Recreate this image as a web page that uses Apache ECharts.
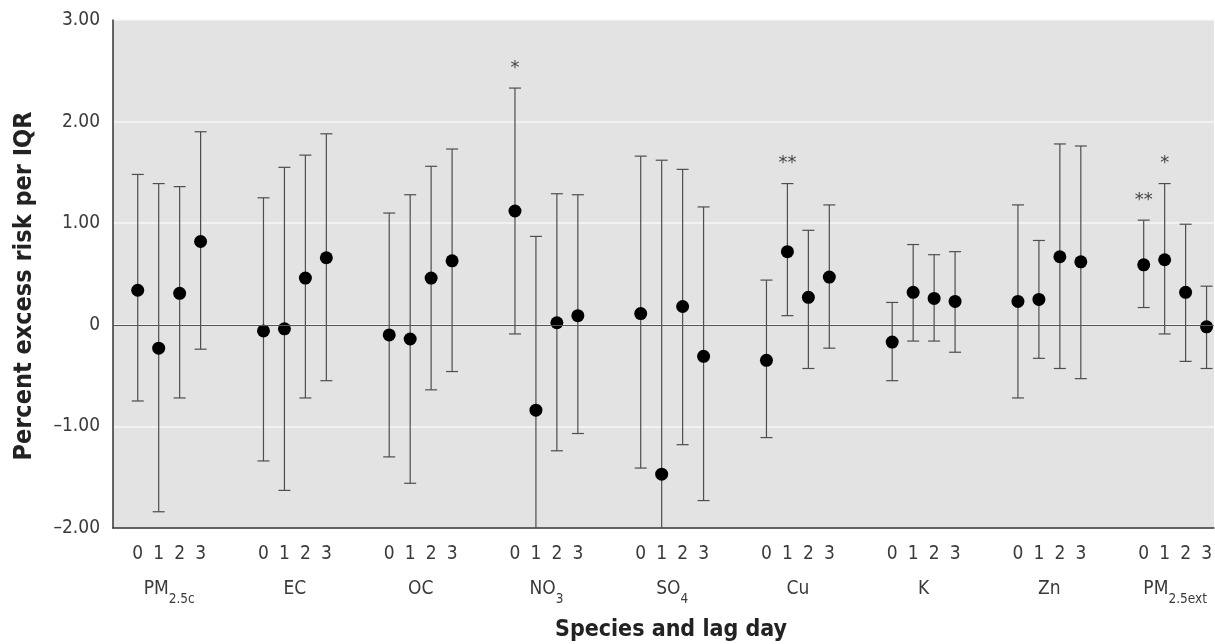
<!DOCTYPE html>
<html>
<head>
<meta charset="utf-8">
<title>Percent excess risk per IQR by species and lag day</title>
<script src="https://cdn.jsdelivr.net/npm/echarts@6/dist/echarts.min.js"></script>
<style>
  html, body { margin: 0; padding: 0; background: #ffffff; }
  #chart { width: 1215px; height: 644px; }
</style>
</head>
<body>
<div id="chart"></div>
<script>
// Species (rich-text keys for subscripts) and lag days
const species = ['PM2.5c', 'EC', 'OC', 'NO3', 'SO4', 'Cu', 'K', 'Zn', 'PM2.5ext'];
const speciesLabels = [
  '{b|PM}{s|2.5c}', '{b|EC}', '{b|OC}', '{b|NO}{s|3}', '{b|SO}{s|4}',
  '{b|Cu}', '{b|K}', '{b|Zn}', '{b|PM}{s|2.5ext}'
];
const lags = [0, 1, 2, 3];

// Point estimates (percent excess risk per IQR), one row per species, lags 0-3
const estimate = [
  [0.34, -0.23, 0.31, 0.82],
  [-0.06, -0.04, 0.46, 0.66],
  [-0.10, -0.14, 0.46, 0.63],
  [1.12, -0.84, 0.02, 0.09],
  [0.11, -1.47, 0.18, -0.31],
  [-0.35, 0.72, 0.27, 0.47],
  [-0.17, 0.32, 0.26, 0.23],
  [0.23, 0.25, 0.67, 0.62],
  [0.59, 0.64, 0.32, -0.02]
];

// Lower 95% confidence limits
const lower = [
  [-0.75, -1.84, -0.72, -0.24],
  [-1.34, -1.63, -0.72, -0.55],
  [-1.30, -1.56, -0.64, -0.46],
  [-0.09, -2.55, -1.24, -1.07],
  [-1.41, -4.50, -1.18, -1.73],
  [-1.11, 0.09, -0.43, -0.23],
  [-0.55, -0.16, -0.16, -0.27],
  [-0.72, -0.33, -0.43, -0.53],
  [0.17, -0.09, -0.36, -0.43]
];

// Upper 95% confidence limits
const upper = [
  [1.48, 1.39, 1.36, 1.90],
  [1.25, 1.55, 1.67, 1.88],
  [1.10, 1.28, 1.56, 1.73],
  [2.33, 0.87, 1.29, 1.28],
  [1.66, 1.62, 1.53, 1.16],
  [0.44, 1.39, 0.93, 1.18],
  [0.22, 0.79, 0.69, 0.72],
  [1.18, 0.83, 1.78, 1.76],
  [1.03, 1.39, 0.99, 0.38]
];

// Significance markers
const significance = [
  ['', '', '', ''],
  ['', '', '', ''],
  ['', '', '', ''],
  ['*', '', '', ''],
  ['', '', '', ''],
  ['', '**', '', ''],
  ['', '', '', ''],
  ['', '', '', ''],
  ['**', '*', '', '']
];

// Y-axis tick values
const yTicks = [-2, -1, 0, 1, 2, 3];

// Each species occupies six slots on the x scale: four lags plus a two-slot gap
const SLOTS = 6;
const slot = (g, l) => g * SLOTS + l;

const pointData = [];
const ciData = [];
const starText = [];
const lagPositions = [];
species.forEach((sp, g) => {
  lags.forEach((lag, l) => {
    const x = slot(g, l);
    lagPositions.push(x);
    pointData.push([x, estimate[g][l]]);
    ciData.push([x, lower[g][l], upper[g][l]]);
    starText.push(significance[g][l]);
  });
});
const groupCenters = species.map((s, g) => slot(g, 1.5));

const FONT = "'Liberation Sans Narrow', 'DejaVu Sans Condensed', 'Roboto', sans-serif";
const TEXT = '#3a3a3a';
const X_MIN = -1.18, X_MAX = 51.35;

const chart = echarts.init(document.getElementById('chart'), null, { renderer: 'canvas' });

chart.setOption({
  animation: false,
  backgroundColor: '#ffffff',
  grid: {
    left: 113, right: 0, top: 20, bottom: 116,
    show: true, backgroundColor: '#e3e3e3', borderWidth: 0
  },
  xAxis: [
    {
      type: 'value', min: X_MIN, max: X_MAX,
      axisLine: { show: true, onZero: false, lineStyle: { color: '#333', width: 1.5 } },
      axisTick: { show: false },
      splitLine: { show: false },
      axisLabel: {
        customValues: lagPositions,
        formatter: (v) => String(Math.round(v) % SLOTS),
        fontFamily: FONT, fontSize: 19, color: TEXT, margin: 17
      }
    },
    {
      type: 'value', min: X_MIN, max: X_MAX, position: 'bottom',
      axisLine: { show: false },
      axisTick: { show: false },
      splitLine: { show: false },
      axisLabel: {
        customValues: groupCenters,
        formatter: (v) => speciesLabels[Math.round((v - 1.5) / SLOTS)],
        margin: 52,
        rich: {
          b: { fontFamily: FONT, fontSize: 19, color: TEXT, verticalAlign: 'bottom', padding: [0, 0, 7, 0] },
          s: { fontFamily: FONT, fontSize: 13.5, color: TEXT, verticalAlign: 'bottom' }
        }
      }
    }
  ],
  yAxis: {
    type: 'value', min: -2, max: 3, interval: 1,
    axisLine: { show: true, onZero: false, lineStyle: { color: '#333', width: 1.5 } },
    axisTick: { show: false },
    splitLine: { show: true, lineStyle: { color: '#f7f7f7', width: 1.5 } },
    axisLabel: {
      customValues: yTicks,
      formatter: (v) => v === 0 ? '0' : (v < 0 ? '\u2013' + Math.abs(v).toFixed(2) : v.toFixed(2)),
      fontFamily: FONT, fontSize: 19, color: TEXT, margin: 13
    }
  },
  graphic: [
    {
      type: 'text', x: 24, y: 286, rotation: Math.PI / 2,
      style: {
        text: 'Percent excess risk per IQR', fontFamily: FONT, fontWeight: 'bold',
        fontSize: 25, fill: '#222', align: 'center', verticalAlign: 'middle'
      }
    },
    {
      type: 'text', x: 671, y: 630,
      style: {
        text: 'Species and lag day', fontFamily: FONT, fontWeight: 'bold',
        fontSize: 23, fill: '#222', align: 'center', verticalAlign: 'middle'
      }
    }
  ],
  series: [
    {
      type: 'custom',
      name: '95% CI',
      xAxisIndex: 0,
      clip: true,
      data: ciData,
      renderItem: (params, api) => {
        const x = api.value(0);
        const pLo = api.coord([x, api.value(1)]);
        const pHi = api.coord([x, api.value(2)]);
        const half = 6;
        const stroke = { stroke: '#4e4e4e', lineWidth: 1.2 };
        const children = [
          { type: 'line', shape: { x1: pHi[0], y1: pHi[1], x2: pLo[0], y2: pLo[1] }, style: stroke },
          { type: 'line', shape: { x1: pHi[0] - half, y1: pHi[1], x2: pHi[0] + half, y2: pHi[1] }, style: stroke },
          { type: 'line', shape: { x1: pLo[0] - half, y1: pLo[1], x2: pLo[0] + half, y2: pLo[1] }, style: stroke }
        ];
        const star = starText[params.dataIndex];
        if (star) {
          children.push({
            type: 'text', x: pHi[0], y: pHi[1] - 20,
            style: {
              text: star, fontFamily: 'DejaVu Sans', fontSize: 18, fill: '#444',
              align: 'center', verticalAlign: 'middle'
            }
          });
        }
        return { type: 'group', children };
      },
      markLine: {
        silent: true, symbol: 'none', label: { show: false },
        lineStyle: { color: '#555', width: 1.2, type: 'solid' },
        data: [{ yAxis: 0 }]
      },
      z: 2
    },
    {
      type: 'scatter',
      name: 'Estimate',
      xAxisIndex: 0,
      data: pointData,
      symbol: 'circle',
      symbolSize: 13,
      itemStyle: { color: '#000', opacity: 1 },
      z: 3
    }
  ]
});
</script>
</body>
</html>
